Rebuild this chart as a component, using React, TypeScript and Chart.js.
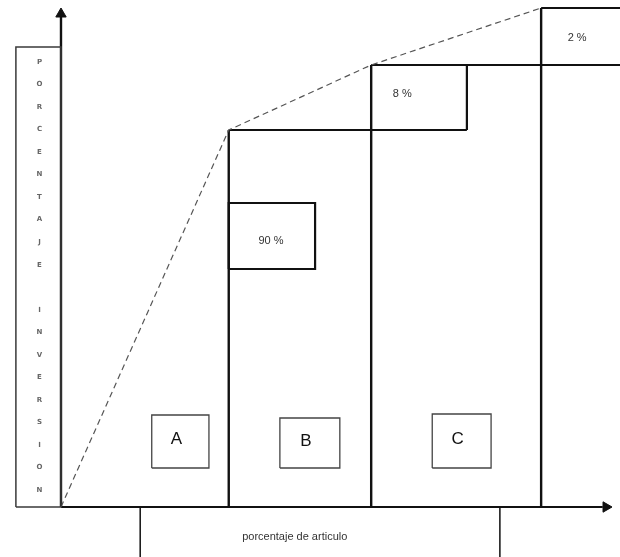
import React, { useEffect, useRef } from 'react';
import { Chart, registerables } from 'chart.js';

Chart.register(...registerables);

// ---- diagram data ----
const yTitle = 'PORCENTAJE INVERSION';
const xTitle = 'porcentaje de articulo';
const classLabels = ['A', 'B', 'C'];
const shareLabels = ['90 %', '8 %', '2 %'];
// cumulative % of articles at the end of each class (0, A, B, C)
const cumArticles = [0, 30.5, 56.4, 87.3];
// cumulative % of investment reached at those points
const cumInvestment = [0, 75.4, 88.4, 99.8];

// scale extents (percent units)
const X_MIN = -11.09;
const X_MAX = 101.64;
const Y_MIN = -10;
const Y_MAX = 101.4;

// annotation boxes [x0, x1, y0, y1]
const classBoxes: number[][] = [
  [16.5, 26.9, 7.8, 18.4],
  [39.8, 50.7, 7.8, 17.8],
  [67.5, 78.2, 7.8, 18.6],
];
const shareBox90 = [30.5, 46.2, 47.6, 60.8];
const box8Right = 73.8;
const yTitleBox = [-8.2, 0, 0, 92];
const xTitleTicks = [14.4, 79.8];

const DARK = '#111111';
const MID = '#3a3a3a';

type P = { x: number; y: number };

function seg(points: P[], color: string, width: number, dash: number[] = []) {
  return {
    type: 'scatter' as const,
    data: points,
    showLine: true,
    borderColor: color,
    backgroundColor: color,
    borderWidth: width,
    borderDash: dash,
    pointRadius: 0,
    fill: false,
    tension: 0,
  };
}

function rect(b: number[], color: string, width: number) {
  const [x0, x1, y0, y1] = b;
  return seg(
    [
      { x: x0, y: y0 },
      { x: x1, y: y0 },
      { x: x1, y: y1 },
      { x: x0, y: y1 },
      { x: x0, y: y0 },
    ],
    color,
    width
  );
}

const textPlugin = {
  id: 'diagramText',
  afterDatasetsDraw(chart: any) {
    const { ctx, scales } = chart;
    const sx = (v: number) => scales.x.getPixelForValue(v);
    const sy = (v: number) => scales.y.getPixelForValue(v);
    ctx.save();
    ctx.textAlign = 'center';
    ctx.textBaseline = 'middle';

    // class letters
    ctx.fillStyle = '#111';
    ctx.font = '17px "Liberation Sans", Arial, sans-serif';
    classLabels.forEach((t, i) => {
      const b = classBoxes[i];
      ctx.fillText(t, sx((b[0] + b[1]) / 2) - 4, sy((b[2] + b[3]) / 2) - 2);
    });

    // share labels
    ctx.fillStyle = '#333';
    ctx.font = '11px "Liberation Sans", Arial, sans-serif';
    ctx.fillText(shareLabels[0], sx((shareBox90[0] + shareBox90[1]) / 2) - 1, sy((shareBox90[2] + shareBox90[3]) / 2) + 5);
    ctx.fillText(shareLabels[1], sx(cumArticles[2]) + 31, sy((cumInvestment[1] + cumInvestment[2]) / 2) - 4);
    ctx.fillText(shareLabels[2], sx(cumArticles[3]) + 36, sy((cumInvestment[2] + cumInvestment[3]) / 2) + 1);

    // x title
    ctx.fillStyle = '#333';
    ctx.font = '11px "Liberation Sans", Arial, sans-serif';
    ctx.fillText(xTitle, sx(42.5), sy(-6));

    // y title, stacked letters
    ctx.fillStyle = '#666';
    ctx.font = 'bold 7px "DejaVu Sans", sans-serif';
    const chars = yTitle.split('');
    const top = sy(89);
    const bottom = sy(3.4);
    const step = (bottom - top) / (chars.length - 1);
    const cx = sx((yTitleBox[0] + yTitleBox[1]) / 2) + 1;
    chars.forEach((c, i) => {
      if (c !== ' ') ctx.fillText(c, cx, top + i * step);
    });
    ctx.restore();
  },
};

export default function App() {
  const ref = useRef<HTMLCanvasElement | null>(null);

  useEffect(() => {
    if (!ref.current) return;
    const datasets: any[] = [];

    // y title box
    datasets.push(rect(yTitleBox, MID, 1.5));
    // x title ticks
    xTitleTicks.forEach((x) => datasets.push(seg([{ x, y: 0 }, { x, y: Y_MIN }], DARK, 1.5)));

    // cumulative dashed curve
    datasets.push(
      seg(
        cumArticles.map((x, i) => ({ x, y: cumInvestment[i] })),
        '#555',
        1.2,
        [6, 4]
      )
    );

    // zone verticals
    for (let i = 1; i < cumArticles.length; i++) {
      datasets.push(seg([{ x: cumArticles[i], y: 0 }, { x: cumArticles[i], y: cumInvestment[i] }], DARK, 2.4));
    }
    // step lines / share boxes
    datasets.push(seg([{ x: cumArticles[1], y: cumInvestment[1] }, { x: box8Right, y: cumInvestment[1] }], DARK, 2.2));
    datasets.push(seg([{ x: box8Right, y: cumInvestment[1] }, { x: box8Right, y: cumInvestment[2] }], DARK, 2.2));
    datasets.push(seg([{ x: cumArticles[2], y: cumInvestment[2] }, { x: X_MAX, y: cumInvestment[2] }], DARK, 2.2));
    datasets.push(seg([{ x: cumArticles[3], y: cumInvestment[3] }, { x: X_MAX, y: cumInvestment[3] }], DARK, 2.2));
    datasets.push(rect(shareBox90, DARK, 2.2));

    // class boxes
    classBoxes.forEach((b) => datasets.push(rect(b, '#444', 1.3)));

    // axes
    datasets.push(seg([{ x: 0, y: 0 }, { x: 0, y: 98 }], DARK, 2.4));
    datasets.push(seg([{ x: 0, y: 0 }, { x: 98.5, y: 0 }], DARK, 2));
    // arrow heads
    datasets.push({
      type: 'scatter',
      data: [{ x: 0, y: 98.6 }],
      pointStyle: 'triangle',
      rotation: 0,
      pointRadius: 6,
      backgroundColor: DARK,
      borderColor: DARK,
      borderWidth: 1,
    });
    datasets.push({
      type: 'scatter',
      data: [{ x: 99.1, y: 0 }],
      pointStyle: 'triangle',
      rotation: 90,
      pointRadius: 6,
      backgroundColor: DARK,
      borderColor: DARK,
      borderWidth: 1,
    });

    const chart = new Chart(ref.current, {
      type: 'scatter',
      data: { datasets },
      options: {
        animation: false,
        responsive: false,
        maintainAspectRatio: false,
        layout: { padding: 0, autoPadding: false },
        events: [],
        plugins: { legend: { display: false }, tooltip: { enabled: false } },
        scales: {
          x: { type: 'linear', min: X_MIN, max: X_MAX, display: false },
          y: { type: 'linear', min: Y_MIN, max: Y_MAX, display: false },
        },
      },
      plugins: [textPlugin],
    });
    return () => chart.destroy();
  }, []);

  return (
    <div style={{ position: 'fixed', left: 0, top: 0, width: 620, height: 557, background: '#fff' }}>
      <canvas ref={ref} width={620} height={557} style={{ width: 620, height: 557, display: 'block' }} />
    </div>
  );
}
